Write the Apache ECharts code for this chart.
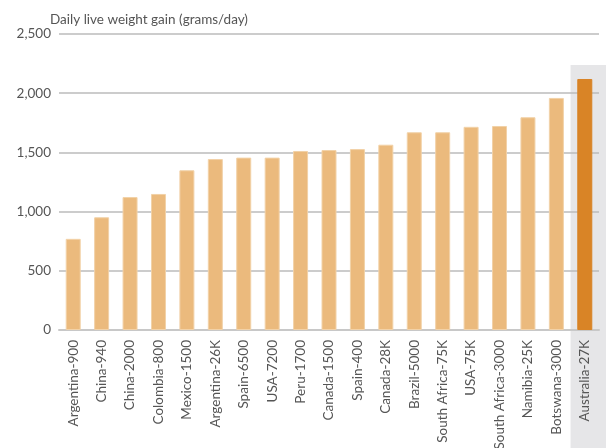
<!DOCTYPE html>
<html><head><meta charset="utf-8">
<script src="https://cdn.jsdelivr.net/npm/echarts@6/dist/echarts.min.js"></script>
<style>html,body{margin:0;padding:0;background:#fff}#c{width:606px;height:448px}</style>
</head><body><div id="c"></div>
<script>
const categories = ["Argentina-900","China-940","China-2000","Colombia-800","Mexico-1500","Argentina-26K","Spain-6500","USA-7200","Peru-1700","Canada-1500","Spain-400","Canada-28K","Brazil-5000","South Africa-75K","USA-75K","South Africa-3000","Namibia-25K","Botswana-3000","Australia-27K"];
const values = [770, 952, 1123, 1149, 1349, 1444, 1456, 1456, 1512, 1520, 1528, 1565, 1670, 1670, 1716, 1723, 1797, 1960, 2120];
const highlight = "Australia-27K";
const yTicks = [0, 500, 1000, 1500, 2000, 2500];
const title = "Daily live weight gain (grams/day)";

const chart = echarts.init(document.getElementById('c'), null, {renderer:'canvas'});
const font = 'Lato, "Open Sans", sans-serif';
chart.setOption({
  animation:false,
  grid:{left:59, right:7, top:34, bottom:118, containLabel:false, outerBoundsMode:'none'},
  title:{text:title, left:45, top:8, textStyle:{fontFamily:font, fontSize:13.5, fontWeight:'normal', color:'#555'}},
  xAxis:{type:'category', data:categories,
    axisLine:{show:true, lineStyle:{color:'#c8c8c8', width:2}},
    axisTick:{show:false},
    axisLabel:{rotate:90, interval:0, margin:10, color:'#555', fontFamily:font, fontSize:13.5}},
  yAxis:{type:'value', min:yTicks[0], max:yTicks[yTicks.length-1], interval:500,
    axisLine:{show:false}, axisTick:{show:false},
    splitLine:{lineStyle:{color:'#bbb', width:1.5}},
    axisLabel:{margin:8, color:'#555', fontFamily:font, fontSize:13.5,
      formatter:v=>v.toLocaleString('en-US')}},
  series:[{type:'bar', barWidth:15, z:3,
    data:values.map((v,i)=>({value:v, itemStyle:{color: categories[i]===highlight ? '#D98426' : '#EBBA7D',
      borderColor: categories[i]===highlight ? '#D98426' : '#F2D2A8', borderWidth:1}}))}]
});
const idx = categories.indexOf(highlight);
const c0 = chart.convertToPixel({xAxisIndex:0}, idx);
const c1 = chart.convertToPixel({xAxisIndex:0}, idx-1);
const bw = c0 - c1;
chart.setOption({graphic:[{type:'rect', z:-10, silent:true,
  shape:{x:c0 - bw/2, y:65, width:606-(c0-bw/2), height:448-65},
  style:{fill:'#E6E6E8'}}]});
</script></body></html>
